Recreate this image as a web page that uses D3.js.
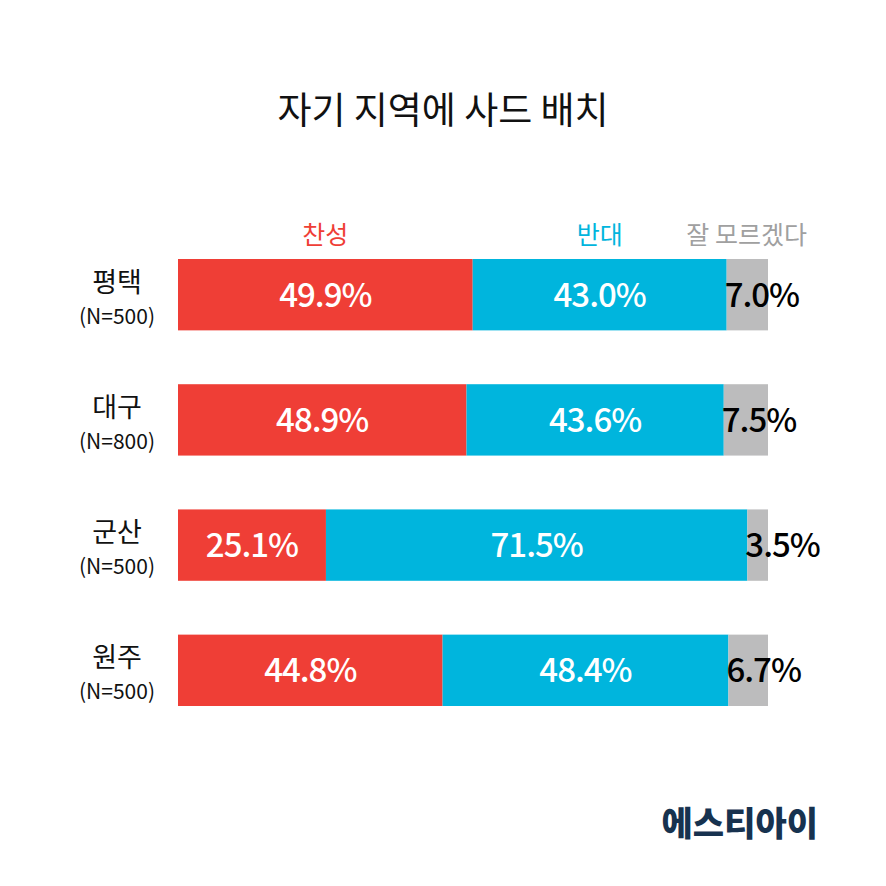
<!DOCTYPE html>
<html><head><meta charset="utf-8">
<script src="https://cdn.jsdelivr.net/npm/d3@7"></script>
<style>body{margin:0;background:#fff}</style>
</head><body>
<svg id="c" width="886" height="886"></svg>
<script>
const regions = ["평택", "대구", "군산", "원주"];
const samples = ["(N=500)", "(N=800)", "(N=500)", "(N=500)"];
const agree = [49.9, 48.9, 25.1, 44.8];
const oppose = [43.0, 43.6, 71.5, 48.4];
const unsure = [7.0, 7.5, 3.5, 6.7];
const seriesNames = ["찬성", "반대", "잘 모르겠다"];
const colors = ["#ef3e36", "#00b5dd", "#bcbcbd"];

const font = "'Noto Sans CJK KR', 'Noto Sans', sans-serif";
const svg = d3.select("#c");

svg.append("text").attr("x", 443).attr("y", 124).attr("text-anchor", "middle")
  .style("font-family", font).style("font-size", "37px").attr("fill", "#111")
  .text("자기 지역에 사드 배치");

const x = d3.scaleLinear().domain([0, 100]).range([178, 768]);
const y = d3.scaleBand().domain(regions).range([259, 706]).paddingInner(0.43).paddingOuter(0);

regions.forEach((r, i) => {
  const vals = [agree[i], oppose[i], unsure[i]];
  const total = d3.sum(vals);
  const sx = d3.scaleLinear().domain([0, total]).range(x.range());
  let acc = 0;
  const g = svg.append("g");
  vals.forEach((v, k) => {
    const x0 = sx(acc), x1 = sx(acc + v);
    g.append("rect").attr("x", x0).attr("y", y(r)).attr("width", x1 - x0)
      .attr("height", y.bandwidth()).attr("fill", colors[k]);
    const t = g.append("text").attr("y", y(r) + y.bandwidth() / 2 + 12)
      .style("font-family", font).style("font-size", "33px").style("font-weight", 500)
      .style("letter-spacing", "-1px")
      .text(v.toFixed(1) + "%");
    if (k < 2) t.attr("x", (x0 + x1) / 2).attr("text-anchor", "middle").attr("fill", "#fff");
    else t.attr("x", x0 - 2).attr("fill", "#000");
    if (i === 0) {
      const lx = k < 2 ? (x0 + x1) / 2 : x0 + 20;
      svg.append("text").attr("x", lx).attr("y", 244).attr("text-anchor", "middle")
        .style("font-family", font).style("font-size", "25px").attr("fill", k === 2 ? "#a0a0a0" : colors[k])
        .text(seriesNames[k]);
    }
    acc += v;
  });
  const cy = y(r) + y.bandwidth() / 2;
  svg.append("text").attr("x", 117).attr("y", cy - 3).attr("text-anchor", "middle")
    .style("font-family", font).style("font-size", "27px").attr("fill", "#111").text(r);
  svg.append("text").attr("x", 117).attr("y", cy + 29).attr("text-anchor", "middle")
    .style("font-family", font).style("font-size", "21px").attr("fill", "#111").text(samples[i]);
});

svg.append("text").attr("x", 818).attr("y", 836).attr("text-anchor", "end")
  .style("font-family", font).style("font-size", "34px").style("font-weight", 900)
  .attr("fill", "#17324f").text("에스티아이");
</script>
</body></html>
